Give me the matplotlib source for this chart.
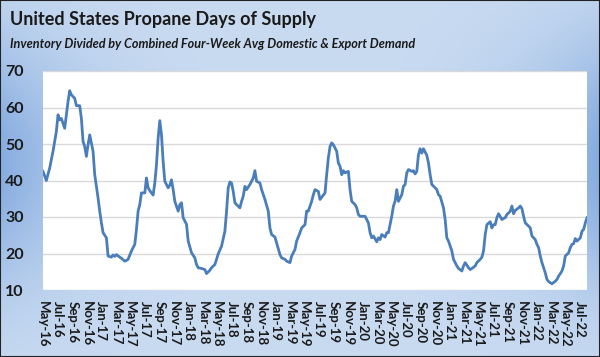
import numpy as np
import pandas as pd
import matplotlib
matplotlib.use('Agg')
import matplotlib.pyplot as plt
import matplotlib.dates as mdates
from matplotlib.colors import to_rgb

plt.rcParams['font.family'] = ['Lato', 'DejaVu Sans']

start = pd.Timestamp('2016-05-06')

# weeks since start, days of supply
weeks = [0, 2, 4, 6, 8, 9, 10, 11, 13, 14, 15, 16, 17, 19, 20, 22, 23, 24, 25, 26, 27, 28, 30, 31, 33, 34, 35, 36, 38, 39,
         41, 42, 43, 44, 46, 47, 49, 50,
         51, 53, 55, 56, 57, 58, 59, 61, 62, 63, 64, 66, 67, 68, 69, 70, 71, 72, 73, 75, 76, 77, 78, 79, 81, 82, 83, 84,
         86, 87, 89, 91, 92, 93, 95, 97, 98, 100, 101, 103, 104, 105,
         107, 109, 110, 111, 112, 113, 114, 115, 116, 118, 119, 120, 121, 122, 124, 125, 126, 127, 128, 130, 131, 133,
         135, 136, 137, 139, 140, 142, 143, 145, 146, 148, 149, 151, 152, 154, 155, 157, 158, 159, 161,
         162, 163, 165, 166, 167, 169, 170, 171, 172, 173, 174, 176, 177, 178, 179, 180, 181, 183, 184, 185, 187, 188,
         189, 190, 192, 193, 195, 196, 197, 198, 200, 201, 202, 203, 205, 206, 207, 209, 210, 211, 212, 213, 215, 216,
         217, 218, 219, 221, 222, 223, 224, 225, 226, 227, 228, 230, 231, 232, 233, 235, 236, 237, 238, 240, 241, 242,
         243, 245, 246, 247, 248, 249, 251, 252, 253, 255, 256, 257, 259, 260, 262, 263, 264, 265, 266, 268, 269, 270,
         271, 272, 273, 275, 276, 277, 278, 279, 280, 281, 282, 283, 285, 286, 287, 288, 289, 291, 292, 293, 295, 296,
         297, 298, 299, 300, 301, 302, 303, 304, 305, 307, 308, 309, 311, 312, 313, 315, 316, 317, 318, 319, 320, 322,
         323, 324, 325, 326]

days_supply = [42.5, 40, 43.4, 48, 53.4, 58, 56.6, 57, 54.3, 58, 61.6, 64.6, 63.5, 62.5, 60.5, 60.5, 57, 50.7, 49.3, 46.6,
               49.8, 52.5, 48, 41.6, 35.2, 31.6, 28.4, 25.7, 24.3, 19.3, 19, 19.6, 19.2, 19.7, 19, 18.7, 17.9, 18.1,
               18.4, 20.7, 22.5, 26.6, 31.6, 33.4, 36.6, 36.6, 40.7, 38, 37.2, 36, 39.3, 44.3, 51.6, 56.4, 52.5, 45.2,
               39.8, 38, 38.7, 40.2, 37.5, 34.3, 31.6, 33.4, 33.9, 29.8, 28, 23.4, 20.2, 18.8, 17, 16.1, 15.9, 15.6,
               14.5, 15.4, 16.1, 17, 18.4, 19.9,
               22, 26.1, 31.6, 38, 39.6, 39.3, 37, 33.9, 33.4, 32.5, 34.3, 35.7, 38.4, 37.5, 38.9, 39.8, 40.7, 42.7,
               39.8, 39.3, 37.5, 34.8, 31.6, 27, 25.2, 24.5, 22.9, 19.7, 18.8, 18.4, 17.9, 17.5, 19.3, 21.1, 23.4, 25.7,
               27, 27.9, 31.6, 31.6, 34.3,
               36.1, 37.5, 37, 34.8, 35.4, 36.6, 41.6, 46.2, 49.3, 50.3, 49.8, 48, 44.8, 43.9, 41.6, 42.7, 42.1, 42.5,
               37.5, 34.3, 33.4, 32.5, 30.7, 30.2, 30.2, 30.2, 28.4, 25.7, 24.3, 24.8, 23.2, 24.3, 23.8, 25.2, 24.5,
               25.7, 25.7, 30.2, 33, 34.3, 37.5, 34.3, 36.1, 38.4,
               38.9, 42.1, 43, 42.5, 42.7, 41.8, 42.5, 47.1, 48.7, 47.5, 48.7, 46.9, 44.8, 41.6, 38.9, 38, 37.5, 36.1,
               35.7, 32.5, 29.3, 24.3, 23.4, 20.7, 18.4, 17.5, 16.6, 15.9, 15.2, 16.6, 17.5, 16.1, 15.6, 15.9, 16.6,
               17.5, 18.4, 19, 20.7, 25.2, 27.9, 28.7, 27, 27.9,
               27.9, 29.8, 30.9, 29.3, 29.6, 29.8, 30.7, 31.1, 31.6, 33, 30.9, 31.8, 32.5, 33, 32.3, 30.2, 28.4, 27.5,
               27, 24.8, 23.8, 22.5, 21.6, 19.3, 17.5, 16.1, 14.7, 12.9, 12.3, 12, 11.7, 12.4, 12.9, 13.8, 15.2, 16.6,
               19.3, 20.2, 21.6, 22.5, 22.7, 24.1, 23.4, 24.3, 26.1, 26.6, 28.4, 29.8]

dates = start + pd.to_timedelta(np.array(weeks) * 7, unit='D')
tick_dates = pd.date_range(start, dates[-1], freq=pd.DateOffset(months=2))

fig = plt.figure(figsize=(6, 3.57), dpi=100)

# blue gradient background
bg = fig.add_axes([0, 0, 1, 1], zorder=0)
gx, gy = np.meshgrid(np.linspace(0, 1, 300), np.linspace(0, 1, 180))
f = (np.abs(gx - 0.5) * 2) ** 3 * np.exp(-((gy - 0.45) / 0.35) ** 2)
light = np.array(to_rgb('#c9dbf1'))
dark = np.array(to_rgb('#86ace0'))
img = light + (dark - light) * f[..., None]
bg.imshow(img, aspect='auto', extent=[0, 1, 0, 1], origin='upper')
bg.axis('off')

ax = fig.add_axes([43 / 600, 1 - 290 / 357, 544 / 600, 219 / 357], zorder=1)
ax.set_facecolor('white')
ax.plot(dates, days_supply, color='#4a7ebb', lw=2.0, solid_joinstyle='round')

ax.set_ylim(10, 70)
ax.set_yticks(range(10, 71, 10))
ax.set_xlim(dates[0], dates[-1])
ax.set_xticks(tick_dates)
ax.xaxis.set_major_formatter(mdates.DateFormatter('%b-%y'))
ax.grid(axis='y', color='#d9d9d9', lw=1)
ax.set_axisbelow(True)
for s in ax.spines.values():
    s.set_visible(False)
ax.tick_params(axis='both', length=0, colors='#1a1a1a')
ax.tick_params(axis='y', labelsize=11.5, pad=14)
ax.tick_params(axis='x', labelsize=9.5, pad=8)
for lab in ax.get_yticklabels():
    lab.set_fontweight('bold')
for lab in ax.get_xticklabels():
    lab.set_fontweight('bold')
    lab.set_rotation(-90)
    lab.set_ha('center')
    lab.set_va('top')

fig.text(10 / 600, 1 - 20 / 357, 'United States Propane Days of Supply', fontsize=13,
         fontweight='bold', color='#1a1a1a', va='center', ha='left')
fig.text(10 / 600, 1 - 44 / 357, 'Inventory Divided by Combined Four-Week Avg Domestic & Export Demand',
         fontsize=9.1, fontweight='bold', fontstyle='italic', color='#1a1a1a', va='center', ha='left')

fig.patches.append(plt.Rectangle((0, 0), 1, 1, transform=fig.transFigure, fill=False,
                                 edgecolor='#222222', lw=1.5, zorder=5))

fig.savefig('out.png', dpi=100)
